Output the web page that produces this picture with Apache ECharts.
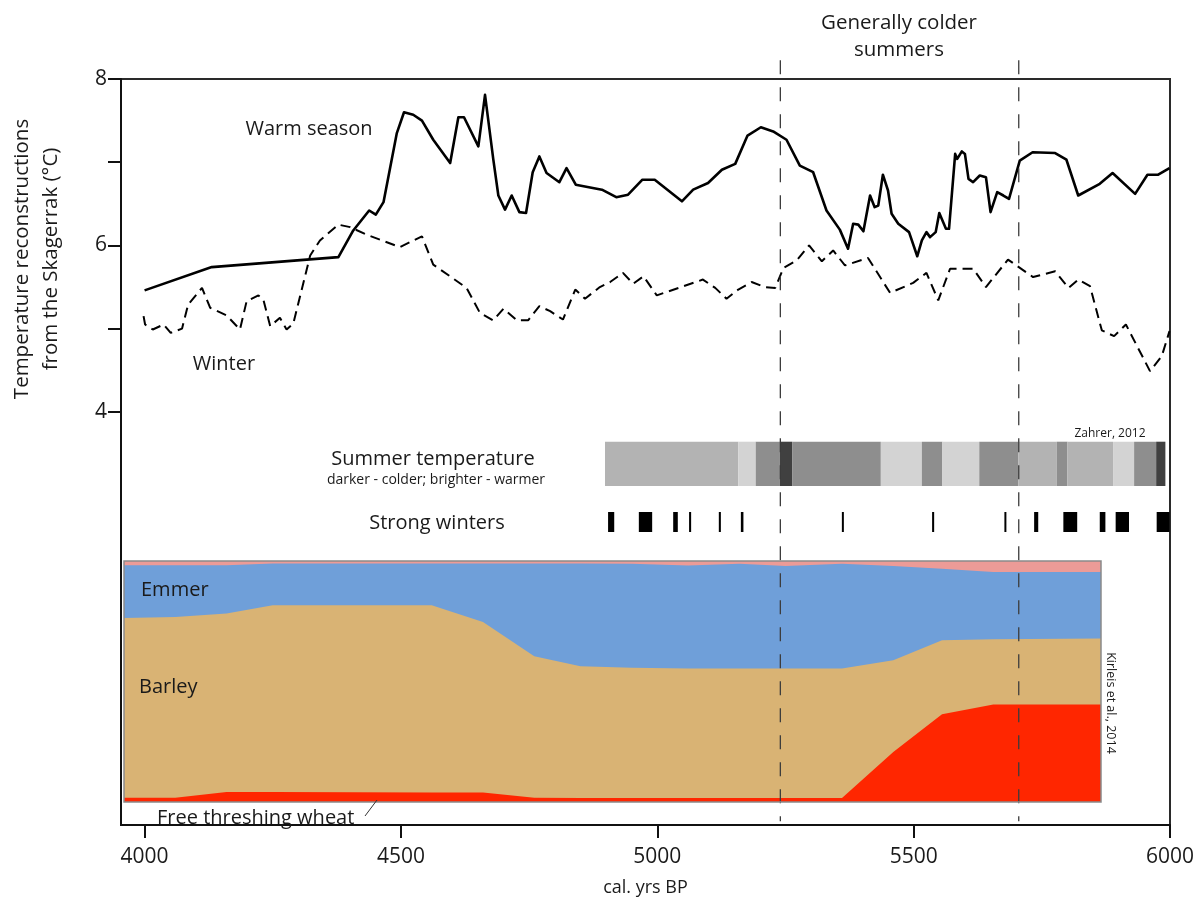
<!DOCTYPE html>
<html>
<head>
<meta charset="utf-8">
<script src="https://cdn.jsdelivr.net/npm/echarts@6/dist/echarts.min.js"></script>
<style>
  html, body { margin: 0; padding: 0; background: #ffffff; }
  #chart { width: 1202px; height: 902px; }
</style>
</head>
<body>
<div id="chart"></div>
<script>
// ---- Temperature reconstructions (Skagerrak) ----
const warmYears = [4000, 4131, 4378, 4407, 4438, 4451, 4466, 4492, 4506, 4524, 4541, 4563, 4596, 4612, 4623, 4651, 4664, 4680, 4690, 4703, 4716, 4731, 4744, 4757, 4770, 4784, 4809, 4823, 4841, 4892, 4920, 4943, 4971, 4995, 5048, 5070, 5099, 5126, 5152, 5176, 5202, 5226, 5252, 5278, 5304, 5330, 5356, 5372, 5382, 5392, 5402, 5415, 5424, 5431, 5440, 5450, 5457, 5470, 5491, 5507, 5516, 5525, 5532, 5543, 5550, 5563, 5569, 5581, 5585, 5594, 5600, 5607, 5616, 5629, 5641, 5650, 5663, 5675, 5686, 5707, 5732, 5776, 5798, 5821, 5863, 5888, 5932, 5956, 5977, 5999];
const warmTemps = [5.46, 5.74, 5.86, 6.18, 6.42, 6.37, 6.52, 7.35, 7.60, 7.57, 7.50, 7.27, 6.99, 7.54, 7.54, 7.19, 7.81, 7.04, 6.60, 6.43, 6.60, 6.40, 6.39, 6.88, 7.07, 6.87, 6.76, 6.93, 6.73, 6.67, 6.58, 6.61, 6.79, 6.79, 6.53, 6.67, 6.75, 6.91, 6.98, 7.32, 7.42, 7.37, 7.27, 6.96, 6.88, 6.42, 6.19, 5.96, 6.26, 6.25, 6.17, 6.60, 6.46, 6.48, 6.85, 6.66, 6.38, 6.26, 6.16, 5.87, 6.06, 6.16, 6.10, 6.16, 6.39, 6.20, 6.20, 7.10, 7.04, 7.13, 7.10, 6.80, 6.76, 6.84, 6.82, 6.40, 6.64, 6.60, 6.56, 7.02, 7.12, 7.11, 7.03, 6.60, 6.74, 6.87, 6.62, 6.85, 6.85, 6.93];

const winterYears = [3998, 4001, 4016, 4037, 4051, 4073, 4085, 4112, 4128, 4160, 4186, 4199, 4222, 4232, 4245, 4264, 4277, 4290, 4323, 4342, 4378, 4401, 4433, 4498, 4541, 4563, 4628, 4654, 4680, 4700, 4726, 4748, 4770, 4791, 4816, 4840, 4859, 4888, 4908, 4933, 4953, 4973, 4999, 5089, 5113, 5135, 5158, 5184, 5210, 5230, 5246, 5272, 5296, 5321, 5343, 5366, 5411, 5454, 5499, 5525, 5548, 5571, 5616, 5641, 5684, 5733, 5776, 5802, 5821, 5844, 5867, 5891, 5914, 5961, 5984, 5999];
const winterTemps = [5.15, 5.05, 4.99, 5.05, 4.95, 5.00, 5.29, 5.49, 5.25, 5.16, 4.99, 5.33, 5.40, 5.34, 5.03, 5.13, 4.99, 5.06, 5.88, 6.06, 6.25, 6.22, 6.13, 5.98, 6.11, 5.77, 5.49, 5.19, 5.10, 5.24, 5.10, 5.10, 5.27, 5.21, 5.11, 5.47, 5.36, 5.50, 5.56, 5.67, 5.54, 5.63, 5.40, 5.59, 5.49, 5.36, 5.47, 5.56, 5.50, 5.49, 5.73, 5.82, 6.00, 5.81, 5.94, 5.76, 5.85, 5.43, 5.55, 5.67, 5.34, 5.72, 5.72, 5.50, 5.83, 5.62, 5.69, 5.49, 5.59, 5.51, 4.98, 4.91, 5.05, 4.49, 4.67, 4.97];

// Period boundaries of "generally colder summers"
const colderPeriod = [5240, 5705];

// ---- Summer temperature band (Zahrer, 2012): 0 coldest ... 3 warmest ----
const summerEdges = [4898, 5158, 5192, 5239, 5263, 5436, 5516, 5556, 5628, 5704, 5779, 5800, 5889, 5930, 5973, 5991];
const summerLevels = [2, 3, 1, 0, 1, 3, 1, 3, 1, 2, 1, 2, 3, 1, 0];

// ---- Strong winters ----
const strongStart = [4904, 4964, 5031, 5062, 5120, 5163, 5360, 5536, 5677, 5735, 5792, 5863, 5894, 5974];
const strongEnd   = [4916, 4990, 5040, 5066, 5124, 5168, 5363, 5540, 5680, 5743, 5819, 5874, 5920, 5999];

// ---- Crop composition (Kirleis et al., 2014), percent ----
const cropYears = [3960, 4060, 4160, 4250, 4560, 4660, 4760, 4850, 4950, 5060, 5160, 5250, 5360, 5460, 5555, 5655, 5865];
const wheat  = [1.8, 1.8, 4.1, 4.1, 3.9, 3.9, 1.8, 1.7, 1.7, 1.7, 1.7, 1.7, 1.7, 20.7, 36.4, 40.5, 40.5];
const barley = [74.5, 75.0, 74.1, 77.5, 77.7, 70.8, 58.7, 54.6, 54.0, 53.7, 53.7, 53.7, 53.7, 38.1, 30.7, 27.0, 27.3];
const emmer  = [21.9, 21.4, 20.0, 17.4, 17.4, 24.3, 38.5, 42.7, 43.2, 42.7, 43.5, 42.5, 43.5, 39.1, 29.7, 27.9, 27.6];
const other  = [1.8, 1.8, 1.8, 1.0, 1.0, 1.0, 1.0, 1.0, 1.1, 1.9, 1.1, 2.1, 1.1, 2.1, 3.2, 4.6, 4.6];

// ---- Axis ticks ----
const xTicks = [4000, 4500, 5000, 5500, 6000];
const yTicks = [4, 5, 6, 7, 8];
const yLabels = [4, 6, 8];

const FONT = '"Open Sans", "Noto Sans", sans-serif';
const INK = '#1a1a1a';
const shades = ['#404040', '#8e8e8e', '#b3b3b3', '#d3d3d3'];

const pairs = (xs, ys) => xs.map((x, i) => [x, ys[i]]);

const summerData = summerLevels.map((lv, i) => [summerEdges[i], summerEdges[i + 1], lv]);
const strongData = strongStart.map((s, i) => [s, strongEnd[i]]);

// Cumulative crop shares, bottom (wheat) to top (other)
const cropLayers = [
  { name: 'Other', color: '#ec9b97', parts: [wheat, barley, emmer, other] },
  { name: 'Emmer', color: '#6f9fd9', parts: [wheat, barley, emmer] },
  { name: 'Barley', color: '#d9b374', parts: [wheat, barley] },
  { name: 'Free threshing wheat', color: '#ff2600', parts: [wheat] }
];

const hiddenX = (grid, min, max) => ({ gridIndex: grid, type: 'value', min, max, show: false });
const hiddenY = (grid, min, max) => ({ gridIndex: grid, type: 'value', min, max, show: false });

function cropSeries(layer) {
  const top = cropYears.map((y, i) => layer.parts.reduce((s, arr) => s + arr[i], 0));
  return {
    name: layer.name, type: 'line', xAxisIndex: 3, yAxisIndex: 3,
    data: pairs(cropYears, top), showSymbol: false, smooth: false,
    lineStyle: { width: 0 }, areaStyle: { color: layer.color, opacity: 1, origin: 'start' }, z: 2
  };
}

function text(t, x, y, size, extra) {
  return Object.assign({
    type: 'text', x, y, z: 100,
    style: { text: t, font: size + 'px ' + FONT, fill: INK, align: 'center', verticalAlign: 'middle' }
  }, extra || {});
}

function leftText(t, x, y, size) {
  return {
    type: 'text', x, y, z: 100,
    style: { text: t, font: size + 'px ' + FONT, fill: INK, align: 'left', verticalAlign: 'middle' }
  };
}

const chart = echarts.init(document.getElementById('chart'), null, { renderer: 'canvas' });

chart.setOption({
  animation: false,
  backgroundColor: '#ffffff',
  grid: [
    { left: 121, top: 79, width: 1049, height: 753, show: true, borderColor: '#2a2a2a', borderWidth: 2, backgroundColor: 'transparent' },
    { left: 121, top: 441.7, width: 1049, height: 44.3 },
    { left: 121, top: 512, width: 1049, height: 20 },
    { left: 124, top: 561, width: 977, height: 241 }
  ],
  xAxis: [
    {
      gridIndex: 0, type: 'value', min: 3954, max: 6000,
      axisLine: { show: true, onZero: false, lineStyle: { color: '#111', width: 2 } },
      axisTick: { show: true, customValues: xTicks, length: 13, lineStyle: { color: '#111', width: 2 } },
      axisLabel: { customValues: xTicks, formatter: v => String(v), fontFamily: FONT, fontSize: 21, color: INK, margin: 22 },
      splitLine: { show: false },
      name: 'cal. yrs BP', nameLocation: 'middle', nameGap: 54,
      nameTextStyle: { fontFamily: FONT, fontSize: 18, color: INK }
    },
    hiddenX(1, 3954, 6000),
    hiddenX(2, 3954, 6000),
    hiddenX(3, 3960, 5865)
  ],
  yAxis: [
    {
      gridIndex: 0, type: 'value', min: -0.964, max: 8,
      axisLine: { show: true, onZero: false, lineStyle: { color: '#111', width: 2 } },
      axisTick: { show: true, customValues: yTicks, length: 13, lineStyle: { color: '#111', width: 2 } },
      axisLabel: { customValues: yLabels, formatter: v => String(v), fontFamily: FONT, fontSize: 21, color: INK, margin: 14 },
      splitLine: { show: false }
    },
    hiddenY(1, 0, 1),
    hiddenY(2, 0, 1),
    hiddenY(3, 0, 100)
  ],
  series: [
    {
      name: 'Warm season', type: 'line', xAxisIndex: 0, yAxisIndex: 0,
      data: pairs(warmYears, warmTemps), showSymbol: false,
      lineStyle: { color: '#000', width: 2.6, join: 'round' }, z: 5
    },
    {
      name: 'Winter', type: 'line', xAxisIndex: 0, yAxisIndex: 0,
      data: pairs(winterYears, winterTemps), showSymbol: false,
      lineStyle: { color: '#000', width: 2, type: [10, 6] }, z: 5
    },
    {
      name: 'Summer temperature', type: 'custom', xAxisIndex: 1, yAxisIndex: 1,
      data: summerData, encode: { x: [0, 1] },
      renderItem: (params, api) => {
        const a = api.coord([api.value(0), 1]);
        const b = api.coord([api.value(1), 0]);
        return { type: 'rect', shape: { x: a[0], y: a[1], width: b[0] - a[0], height: b[1] - a[1] },
                 style: { fill: shades[api.value(2)] } };
      }, z: 3
    },
    {
      name: 'Strong winters', type: 'custom', xAxisIndex: 2, yAxisIndex: 2,
      data: strongData, encode: { x: [0, 1] },
      renderItem: (params, api) => {
        const a = api.coord([api.value(0), 1]);
        const b = api.coord([api.value(1), 0]);
        return { type: 'rect', shape: { x: a[0], y: a[1], width: Math.max(2, b[0] - a[0]), height: b[1] - a[1] },
                 style: { fill: '#000' } };
      }, z: 3
    },
    ...cropLayers.map(cropSeries),
    {
      name: 'Colder summers', type: 'custom', xAxisIndex: 0, yAxisIndex: 0, clip: false,
      data: colderPeriod.map(v => [v]), encode: { x: 0 },
      renderItem: (params, api) => {
        const top = api.coord([api.value(0), 8.226]);
        const bot = api.coord([api.value(0), -0.92]);
        return { type: 'line', shape: { x1: top[0], y1: top[1], x2: bot[0], y2: bot[1] },
                 style: { stroke: '#3c3c3c', lineWidth: 1.3, lineDash: [14, 13] } };
      }, z: 20
    }
  ],
  graphic: [
    { type: 'rect', z: 90, shape: { x: 124, y: 561, width: 977, height: 241 },
      style: { fill: 'none', stroke: '#8a8a8a', lineWidth: 1.5 } },
    { type: 'line', z: 100, shape: { x1: 365, y1: 816, x2: 377, y2: 800 },
      style: { stroke: '#333', lineWidth: 1 } },
    text('Warm season', 309, 129, 20),
    text('Winter', 224, 364, 20),
    text('Generally colder', 899, 23, 20.5),
    text('summers', 899, 50, 20.5),
    text('Summer temperature', 433, 459, 20),
    text('darker - colder; brighter - warmer', 436, 480, 14),
    text('Strong winters', 437, 523, 20),
    text('Zahrer, 2012', 1110, 434, 12),
    leftText('Emmer', 141, 590, 20),
    leftText('Barley', 139, 687, 20),
    leftText('Free threshing wheat', 157, 818, 20),
    text('Kirleis et al., 2014', 1111, 703, 12.5, { rotation: -Math.PI / 2 }),
    text('Temperature reconstructions', 22, 259, 20.5, { rotation: Math.PI / 2 }),
    text('from the Skagerrak (°C)', 51, 259, 20.5, { rotation: Math.PI / 2 })
  ]
});
</script>
</body>
</html>
